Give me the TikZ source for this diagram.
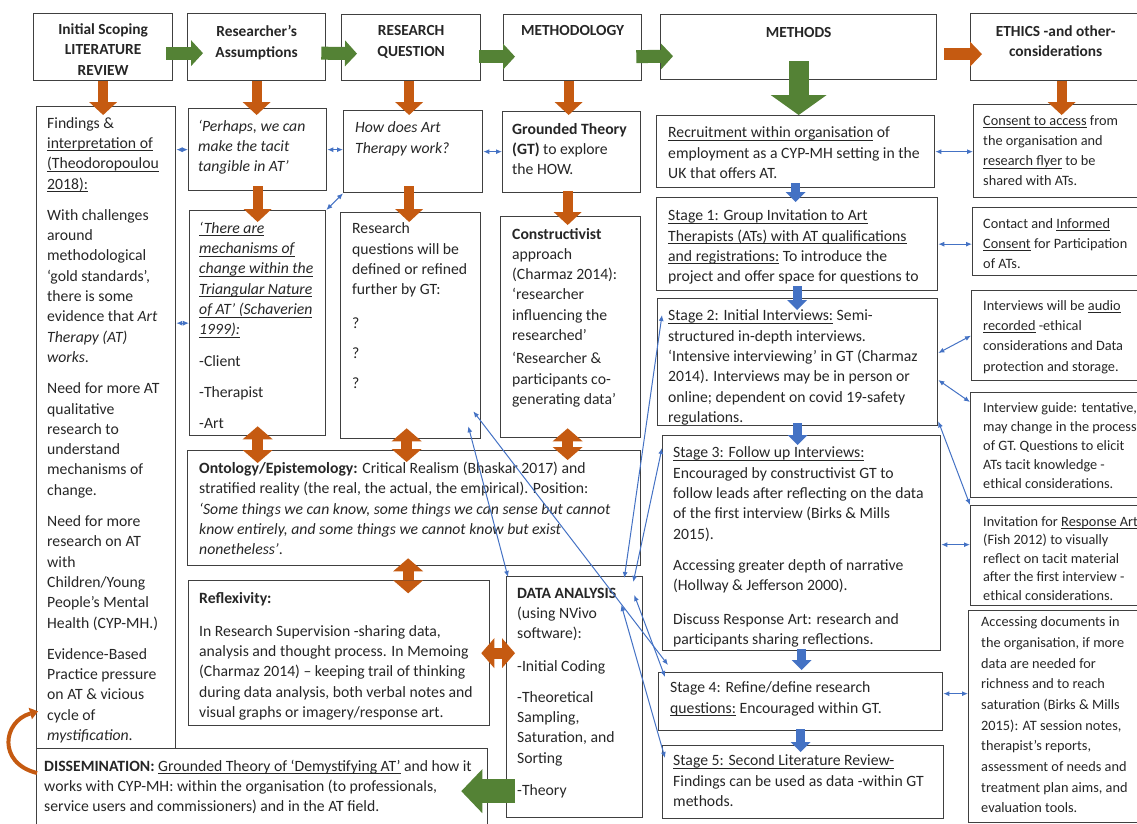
\documentclass[tikz,border=0pt]{standalone}
\usepackage{fontspec}
\setmainfont{Carlito}
\usetikzlibrary{arrows.meta,calc,positioning}

\definecolor{boxgray}{RGB}{64,64,64}
\definecolor{txtgray}{RGB}{38,38,38}
\definecolor{arrgreen}{RGB}{84,130,53}
\definecolor{arrorange}{RGB}{197,90,17}
\definecolor{arrblue}{RGB}{68,114,196}

\newcommand{\bodyfont}{\fontsize{15.7}{20.3}\selectfont}
\newcommand{\headfont}{\fontsize{15.4}{20.3}\selectfont}
\newcommand{\sidefont}{\fontsize{14.3}{20.3}\selectfont}
\newsavebox{\undlbox}
\newcommand{\undl}[1]{\sbox{\undlbox}{#1}\rlap{\rule[-2.6pt]{\wd\undlbox}{0.6pt}}\usebox{\undlbox}}

\tikzset{
  box/.style={draw=boxgray, line width=1.3pt, anchor=north west, inner sep=0pt},
  txt/.style={anchor=north west, inner sep=0pt, align=left, text=txtgray, font=\bodyfont, execute at begin node=\strut},
  side/.style={txt, font=\sidefont},
  head/.style={anchor=north, inner sep=0pt, align=center, text=txtgray, font=\headfont\bfseries, execute at begin node=\strut},
  garr/.style={draw=arrgreen, line width=13pt, -{Triangle[length=12pt,width=26pt,line width=0pt]}},
  gbig/.style={draw=arrgreen, line width=20pt, -{Triangle[length=20pt,width=56pt,line width=0pt]}},
  gleft/.style={draw=arrgreen, line width=24pt, -{Triangle[length=21pt,width=44pt,line width=0pt]}},
  oarr/.style={draw=arrorange, line width=10pt, -{Triangle[length=13pt,width=28pt,line width=0pt]}},
  oside/.style={draw=arrorange, line width=12pt, -{Triangle[length=12pt,width=25pt,line width=0pt]}},
  odbl/.style={draw=arrorange, line width=11pt, {Triangle[length=13pt,width=30pt,line width=0pt]}-{Triangle[length=13pt,width=30pt,line width=0pt]}},
  ocurve/.style={draw=arrorange, line width=4pt, -{Triangle[length=8pt,width=12pt,line width=0pt]}},
  bblk/.style={draw=arrblue, line width=9pt, -{Triangle[length=10pt,width=20pt,line width=0pt]}},
  barr/.style={draw=arrblue, line width=1pt, {Latex[length=6pt,width=5pt]}-{Latex[length=6pt,width=5pt]}},
}

\begin{document}
\begin{tikzpicture}[x=1pt,y=1pt,yscale=-1,xscale=1]
\useasboundingbox (0,0) rectangle (1137,823);

% Boxes, top row
\node[box, minimum width=139pt, minimum height=67pt] (litrev) at (33,13) {};
\node[box, minimum width=138pt, minimum height=67pt] (assum) at (187,13) {};
\node[box, minimum width=139pt, minimum height=66pt] (rq) at (341,14) {};
\node[box, minimum width=138pt, minimum height=66pt] (meth) at (503,14) {};
\node[box, minimum width=276pt, minimum height=65pt] (methods) at (660,14) {};
\node[box, minimum width=170pt, minimum height=67pt] (ethics) at (970,13) {};

% Boxes, columns
\node[box, minimum width=139pt, minimum height=642pt] (find) at (36,106) {};
\node[box, minimum width=138pt, minimum height=82pt] (perh) at (188,108) {};
\node[box, minimum width=139pt, minimum height=82pt] (how) at (343,110) {};
\node[box, minimum width=138pt, minimum height=81pt] (gt) at (502,111) {};
\node[box, minimum width=278pt, minimum height=72pt] (recr) at (656,115) {};
\node[box, minimum width=167pt, minimum height=93pt] (cons) at (973,104) {};
\node[box, minimum width=136pt, minimum height=225pt] (mech) at (189,210) {};
\node[box, minimum width=140pt, minimum height=226pt] (rqs) at (340,212) {};
\node[box, minimum width=140pt, minimum height=221pt] (cstr) at (500,216) {};
\node[box, minimum width=281pt, minimum height=93pt] (s1) at (656,197) {};
\node[box, minimum width=168pt, minimum height=68pt] (cont) at (972,207) {};
\node[box, minimum width=280pt, minimum height=127pt] (s2) at (657,298) {};
\node[box, minimum width=169pt, minimum height=90pt] (audio) at (971,290) {};
\node[box, minimum width=453pt, minimum height=115pt] (onto) at (187,450) {};
\node[box, minimum width=301pt, minimum height=145pt] (refl) at (188,580) {};
\node[box, minimum width=136pt, minimum height=241pt] (da) at (506,576) {};
\node[box, minimum width=278pt, minimum height=215pt] (s3) at (662,435) {};
\node[box, minimum width=170pt, minimum height=105pt] (guide) at (970,392) {};
\node[box, minimum width=170pt, minimum height=100pt] (invit) at (970,505) {};
\node[box, minimum width=284pt, minimum height=58pt] (s4) at (658,672) {};
\node[box, minimum width=281pt, minimum height=73pt] (s5) at (662,745) {};
\node[box, minimum width=172pt, minimum height=212pt] (acc) at (968,610) {};
\node[box, minimum width=451pt, minimum height=82pt] (dis) at (36,748) {};

% Text Node, headers
\node[head, below=10.5pt of litrev.north] (litrevT) {Initial Scoping\\LITERATURE\\REVIEW};
\node[head, below=12.5pt of assum.north] (assumT) {Researcher’s\\Assumptions};
\node[head, below=11.5pt of rq.north] (rqT) {RESEARCH\\QUESTION};
\node[head, below=7pt of meth.north] (methT) {METHODOLOGY};
\node[head, below=9pt of methods.north] (methodsT) {METHODS};
\node[head, below=12.5pt of ethics.north] (ethicsT) {ETHICS -and other-\\considerations};

% Text Node
\node[txt, below right=11pt and 11pt of find.north west] (findT) {Findings \&\\
\undl{interpretation of}\\
\undl{(Theodoropoulou}\\
\undl{2018):}\\[11pt]
With challenges\\
around\\
methodological\\
‘gold standards’,\\
there is some\\
evidence that \textit{Art}\\
\textit{Therapy (AT)}\\
\textit{works}.\\[11pt]
Need for more AT\\
qualitative\\
research to\\
understand\\
mechanisms of\\
change.\\[11pt]
Need for more\\
research on AT\\
with\\
Children/Young\\
People’s Mental\\
Health (CYP-MH.)\\[11pt]
Evidence-Based\\
Practice pressure\\
on AT \& vicious\\
cycle of\\
\textit{mystification}.};

\node[txt, below right=11.8pt and 10pt of perh.north west] (perhT) {\textit{‘Perhaps, we can}\\\textit{make the tacit}\\\textit{tangible in AT’}};
\node[txt, below right=11.8pt and 12pt of how.north west] (howT) {\textit{How does Art}\\\textit{Therapy work?}};
\node[txt, below right=11.8pt and 10pt of gt.north west] (gtT) {\textbf{Grounded Theory}\\\textbf{(GT)} to explore\\the HOW.};
\node[txt, below right=11.8pt and 12pt of recr.north west] (recrT) {\undl{Recruitment within organisation} of\\employment as a CYP-MH setting in the\\UK that offers AT.};
\node[side, below right=11pt and 10pt of cons.north west] (consT) {\undl{Consent to access} from\\the organisation and\\\undl{research flyer} to be\\shared with ATs.};

\node[txt, below right=11.8pt and 10pt of mech.north west] (mechT) {\undl{\textit{‘There are}}\\\undl{\textit{mechanisms of}}\\\undl{\textit{change within the}}\\\undl{\textit{Triangular Nature}}\\\undl{\textit{of AT’ (Schaverien}}\\\undl{\textit{1999):}}\\[11pt]
-Client\\[11pt]
-Therapist\\[11pt]
-Art};
\node[txt, below right=10.8pt and 12pt of rqs.north west] (rqsT) {Research\\questions will be\\defined or refined\\further by GT:\\[13pt]
?\\[10pt]
?\\[10pt]
?};
\node[txt, below right=11.8pt and 12pt of cstr.north west] (cstrT) {\textbf{Constructivist}\\approach\\(Charmaz 2014):\\‘researcher\\influencing the\\researched’\\[3pt]
‘Researcher \&\\participants co-\\generating data’};

\node[txt, below right=12.8pt and 12pt of s1.north west] (s1T) {\undl{Stage 1: Group Invitation to Art}\\\undl{Therapists (ATs) with AT qualifications}\\\undl{and registrations:} To introduce the\\project and offer space for questions to};
\node[side, below right=11pt and 11pt of cont.north west] (contT) {Contact and \undl{Informed}\\\undl{Consent} for Participation\\of ATs.};
\node[txt, below right=11.8pt and 11pt of s2.north west] (s2T) {\undl{Stage 2: Initial Interviews:} Semi-\\structured in-depth interviews.\\‘Intensive interviewing’ in GT (Charmaz\\2014). Interviews may be in person or\\online; dependent on covid 19-safety\\regulations.};
\node[side, below right=10pt and 12pt of audio.north west] (audioT) {Interviews will be \undl{audio}\\\undl{recorded} -ethical\\considerations and Data\\protection and storage.};

\node[txt, below right=11.8pt and 12pt of onto.north west] (ontoT) {\textbf{Ontology/Epistemology:} Critical Realism (Bhaskar 2017) and\\stratified reality (the real, the actual, the empirical). Position:\\\textit{‘Some things we can know, some things we can sense but cannot}\\\textit{know entirely, and some things we cannot know but exist}\\\textit{nonetheless’}.};
\node[txt, below right=11.8pt and 11pt of refl.north west] (reflT) {\textbf{Reflexivity:}\\[13pt]
In Research Supervision -sharing data,\\analysis and thought process. In Memoing\\(Charmaz 2014) -- keeping trail of thinking\\during data analysis, both verbal notes and\\visual graphs or imagery/response art.};
\node[txt, below right=11.5pt and 11pt of da.north west] (daT) {\textbf{DATA ANALYSIS}\\(using NVivo\\software):\\[13pt]
-Initial Coding\\[10pt]
-Theoretical\\Sampling,\\Saturation, and\\Sorting\\[12pt]
-Theory};

\node[txt, below right=11.8pt and 11pt of s3.north west] (s3T) {\undl{Stage 3: Follow up Interviews:}\\Encouraged by constructivist GT to\\follow leads after reflecting on the data\\of the first interview (Birks \& Mills\\2015).\\[11pt]
Accessing greater depth of narrative\\(Hollway \& Jefferson 2000).\\[13pt]
Discuss Response Art: research and\\participants sharing reflections.};
\node[side, font=\fontsize{14.3}{19}\selectfont, below right=10.7pt and 13pt of guide.north west] (guideT) {Interview guide: tentative,\\may change in the process\\of GT. Questions to elicit\\ATs tacit knowledge -\\ethical considerations.};
\node[side, font=\fontsize{14.3}{18.5}\selectfont, below right=11pt and 13pt of invit.north west] (invitT) {Invitation for \undl{Response Art}\\(Fish 2012) to visually\\reflect on tacit material\\after the first interview -\\ethical considerations.};
\node[side, font=\fontsize{14.3}{20.7}\selectfont, below right=6.5pt and 13pt of acc.north west] (accT) {Accessing documents in\\the organisation, if more\\data are needed for\\richness and to reach\\saturation (Birks \& Mills\\2015): AT session notes,\\therapist’s reports,\\assessment of needs and\\treatment plan aims, and\\evaluation tools.};
\node[txt, below right=9.8pt and 12pt of s4.north west] (s4T) {Stage 4: Refine/define research\\\undl{questions:} Encouraged within GT.};
\node[txt, below right=9.8pt and 11pt of s5.north west] (s5T) {\undl{Stage 5: Second Literature Review-}\\Findings can be used as data -within GT\\methods.};
\node[txt, below right=11.8pt and 8pt of dis.north west] (disT) {\textbf{DISSEMINATION:} \undl{Grounded Theory of ‘Demystifying AT’} and how it\\works with CYP-MH: within the organisation (to professionals,\\service users and commissioners) and in the AT field.};

% Green arrows along the top
\draw[garr] ($(litrev.east)+(-7,6)$) -- ($(assum.west)+(16,6)$);
\draw[garr] ($(assum.east)+(-5,6)$) -- ($(rq.west)+(16,6)$);
\draw[garr] ($(rq.east)+(-2,9)$) -- ($(meth.west)+(12,9)$);
\draw[garr] ($(meth.east)+(-6,9)$) -- ($(methods.west)+(13,9)$);
\draw[oside] ($(methods.east)+(7,7)$) -- ($(ethics.west)+(12,7)$);
\draw[gbig, shorten <=-19pt] (methods.south) -- (methods.south |- recr.north);
\draw[gleft] ($(da.west)+(9,94)$) -- ($(da.west -| dis.east)+(-27,94)$);

% Orange arrows down
\draw[oarr, shorten >=-9pt] (litrev.south) -- (litrev.south |- find.north);
\draw[oarr, shorten >=-7pt] (assum.south) -- (assum.south |- perh.north);
\draw[oarr, shorten >=-5pt] ($(rq.south)+(-2,0)$) -- ($(rq.south |- how.north)+(-2,0)$);
\draw[oarr, shorten >=-4pt] ($(meth.south)+(-4,0)$) -- ($(meth.south |- gt.north)+(-4,0)$);
\draw[oarr, shorten >=-11pt] ($(ethics.south)+(6,0)$) -- ($(ethics.south |- cons.north)+(6,0)$);
\draw[oarr, shorten <=-5pt, shorten >=-12pt] (perh.south) -- (perh.south |- mech.north);
\draw[oarr, shorten <=-7pt, shorten >=-10pt] ($(how.south)+(-4,0)$) -- ($(how.south |- rqs.north)+(-4,0)$);
\draw[oarr, shorten <=-2pt, shorten >=-9pt] ($(gt.south)+(-4,0)$) -- ($(gt.south |- cstr.north)+(-4,0)$);

% Orange double arrows
\draw[odbl, shorten <=-10pt, shorten >=-13pt] (mech.south) -- (mech.south |- onto.north);
\draw[odbl, shorten <=-11pt, shorten >=-12pt] ($(rqs.south)+(-4,0)$) -- ($(rqs.south |- onto.north)+(-4,0)$);
\draw[odbl, shorten <=-10pt, shorten >=-10pt] ($(cstr.south)+(-3,0)$) -- ($(cstr.south |- onto.north)+(-3,0)$);
\draw[odbl] ($(onto.south)+(-6,-8)$) -- ($(onto.south)+(-6,27)$);
\draw[odbl, shorten <=-9pt, shorten >=-9pt] (refl.east) -- (refl.east -| da.west);
\draw[ocurve] ($(dis.north west)+(1,25)$) .. controls +(-40,-10) and +(-35,10) .. ($(find.south west)+(2,-38)$);

% Blue arrows between the stages
\draw[bblk, shorten <=-5pt, shorten >=-5pt] (recr.south) -- (recr.south |- s1.north);
\draw[bblk, shorten <=-5pt, shorten >=-12pt] (s1.south) -- (s1.south |- s2.north);
\draw[bblk, shorten <=-3pt, shorten >=-10pt] (s2.south) -- (s2.south |- s3.north);
\draw[bblk, shorten <=-2pt, shorten >=2pt] (s3.south) -- (s3.south |- s4.north);
\draw[bblk, shorten <=-2pt, shorten >=-7pt] (s4.south) -- (s4.south |- s5.north);

% Blue links
\draw[barr] (find.east |- perh.west) -- (perh.west);
\draw[barr] (find.east |- mech.west) -- (mech.west);
\draw[barr] (perh.east) -- (perh.east -| how.west);
\draw[barr] (how.east) -- (how.east -| gt.west);
\draw[barr] (how.south west) -- (mech.north east);
\draw[barr] (recr.east) -- (recr.east -| cons.west);
\draw[barr] (s1.east) -- (s1.east -| cont.west);
\draw[barr] ($(s2.north east)+(0,55)$) -- (audio.west);
\draw[barr] ($(s2.north east)+(0,82)$) -- ($(guide.north west)+(0,10)$);
\draw[barr] ($(s2.south east)+(0,-5)$) -- (invit.north west);
\draw[barr] ($(invit.west -| s3.east)+(0,-11)$) -- ($(invit.west)+(0,-11)$);
\draw[barr] ($(s4.east)+(0,-8)$) -- ($(s4.east -| acc.west)+(0,-8)$);
\draw[barr] ($(rqs.south east)+(-8,-28)$) -- ($(s4.north west)+(10,-7)$);
\draw[barr] ($(rqs.south east)+(-13,-13)$) -- ($(da.north west)+(2,1)$);
\draw[barr] ($(s2.north west)+(5,17)$) -- ($(da.north east)+(-19,2)$);
\draw[barr] ($(s3.north west)+(0,13)$) -- ($(da.north east)+(-10,6)$);
\draw[barr] ($(da.north east)+(-9,19)$) -- ($(s4.north west)+(7,5)$);
\draw[barr] ($(da.north east)+(-22,29)$) -- ($(s5.north west)+(3,13)$);

\end{tikzpicture}
\end{document}
